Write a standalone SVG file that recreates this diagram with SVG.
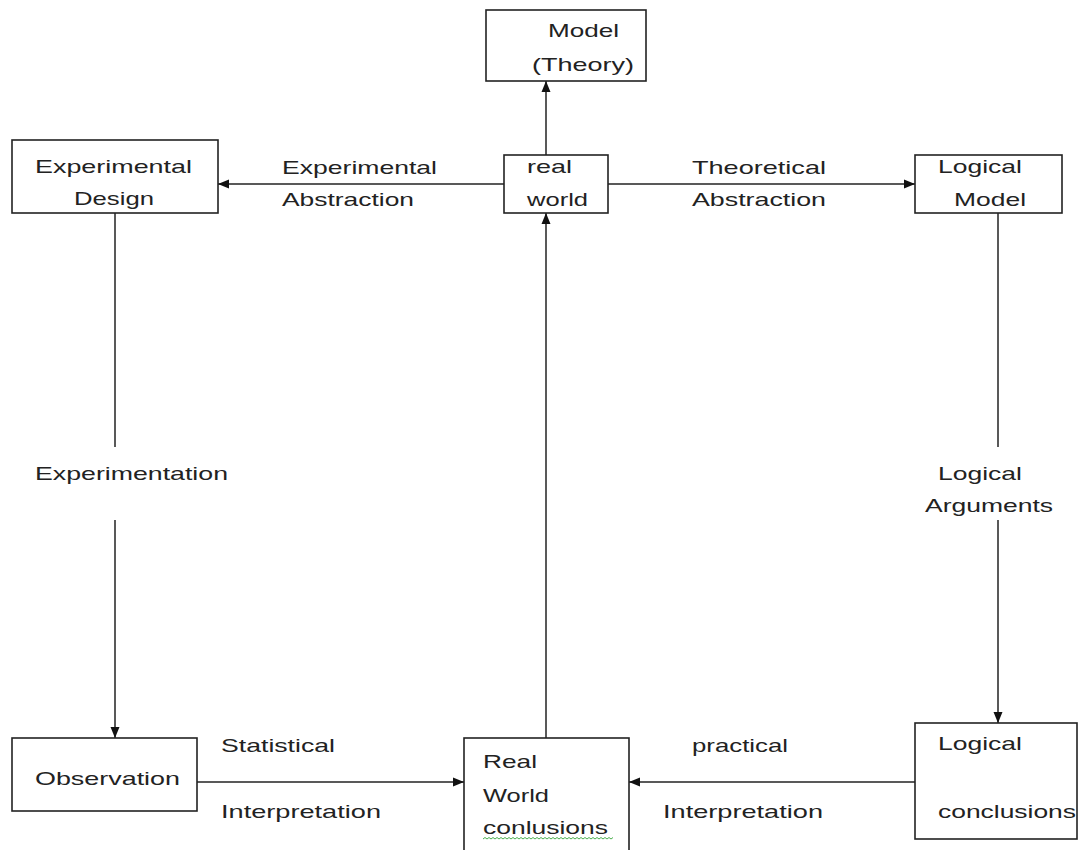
<svg xmlns="http://www.w3.org/2000/svg" width="1085" height="850" viewBox="0 0 1085 850">
<style>
.box{fill:#fff;stroke:#222;stroke-width:1.6}
.t{font-family:"Liberation Sans",Arial,sans-serif;font-size:19px;fill:#222}
.c{stroke:#222;stroke-width:1.5;fill:none}
.a{marker-end:url(#arr)}
</style>
<defs>
<marker id="arr" markerWidth="12" markerHeight="10" refX="11" refY="5" orient="auto" markerUnits="userSpaceOnUse">
<path d="M0,0.5 L11,5 L0,9.5 z" fill="#111"/>
</marker>
</defs>
<rect width="1085" height="850" fill="#fff"/>
<g id="connectors">
<line class="c a" x1="546" y1="155" x2="546" y2="81"/>
<line class="c a" x1="504" y1="184" x2="218" y2="184"/>
<line class="c a" x1="608" y1="184" x2="915" y2="184"/>
<line class="c a" x1="546" y1="738" x2="546" y2="213"/>
<line class="c" x1="115" y1="213" x2="115" y2="447"/>
<line class="c a" x1="115" y1="520" x2="115" y2="738"/>
<line class="c" x1="998" y1="213" x2="998" y2="447"/>
<line class="c a" x1="998" y1="520" x2="998" y2="723"/>
<line class="c a" x1="197" y1="782" x2="464" y2="782"/>
<line class="c a" x1="915" y1="782" x2="629" y2="782"/>
<text class="t" x="282" y="174" textLength="155" lengthAdjust="spacingAndGlyphs">Experimental</text>
<text class="t" x="282" y="206" textLength="132" lengthAdjust="spacingAndGlyphs">Abstraction</text>
<text class="t" x="692" y="174" textLength="134" lengthAdjust="spacingAndGlyphs">Theoretical</text>
<text class="t" x="692" y="206" textLength="134" lengthAdjust="spacingAndGlyphs">Abstraction</text>
<text class="t" x="35" y="480" textLength="193" lengthAdjust="spacingAndGlyphs">Experimentation</text>
<text class="t" x="938" y="480" textLength="84" lengthAdjust="spacingAndGlyphs">Logical</text>
<text class="t" x="925" y="512" textLength="128" lengthAdjust="spacingAndGlyphs">Arguments</text>
<text class="t" x="221" y="752" textLength="114" lengthAdjust="spacingAndGlyphs">Statistical</text>
<text class="t" x="221" y="818" textLength="160" lengthAdjust="spacingAndGlyphs">Interpretation</text>
<text class="t" x="692" y="752" textLength="96" lengthAdjust="spacingAndGlyphs">practical</text>
<text class="t" x="663" y="818" textLength="160" lengthAdjust="spacingAndGlyphs">Interpretation</text>
</g>
<g id="model">
<rect class="box" x="486" y="10" width="160" height="71"/>
<text class="t" x="548" y="37" textLength="71" lengthAdjust="spacingAndGlyphs">Model</text>
<text class="t" x="532" y="71" textLength="102" lengthAdjust="spacingAndGlyphs">(Theory)</text>
</g>
<g id="experimental-design">
<rect class="box" x="12" y="140" width="206" height="73"/>
<text class="t" x="35" y="173" textLength="157" lengthAdjust="spacingAndGlyphs">Experimental</text>
<text class="t" x="74" y="205" textLength="80" lengthAdjust="spacingAndGlyphs">Design</text>
</g>
<g id="real-world">
<rect class="box" x="504" y="155" width="104" height="58"/>
<text class="t" x="527" y="173" textLength="45" lengthAdjust="spacingAndGlyphs">real</text>
<text class="t" x="527" y="206" textLength="61" lengthAdjust="spacingAndGlyphs">world</text>
</g>
<g id="logical-model">
<rect class="box" x="915" y="155" width="147" height="58"/>
<text class="t" x="938" y="173" textLength="84" lengthAdjust="spacingAndGlyphs">Logical</text>
<text class="t" x="954" y="206" textLength="72" lengthAdjust="spacingAndGlyphs">Model</text>
</g>
<g id="observation">
<rect class="box" x="12" y="738" width="185" height="73"/>
<text class="t" x="35" y="785" textLength="145" lengthAdjust="spacingAndGlyphs">Observation</text>
</g>
<g id="real-world-conclusions">
<rect class="box" x="464" y="738" width="165" height="130"/>
<text class="t" x="483" y="768" textLength="54" lengthAdjust="spacingAndGlyphs">Real</text>
<text class="t" x="483" y="802" textLength="66" lengthAdjust="spacingAndGlyphs">World</text>
<text class="t" x="483" y="834" textLength="125" lengthAdjust="spacingAndGlyphs">conlusions</text>
<path d="M483,839 l2,-1.5 2,1.5 2,-1.5 2,1.5 2,-1.5 2,1.5 2,-1.5 2,1.5 2,-1.5 2,1.5 2,-1.5 2,1.5 2,-1.5 2,1.5 2,-1.5 2,1.5 2,-1.5 2,1.5 2,-1.5 2,1.5 2,-1.5 2,1.5 2,-1.5 2,1.5 2,-1.5 2,1.5 2,-1.5 2,1.5 2,-1.5 2,1.5 2,-1.5 2,1.5 2,-1.5 2,1.5 2,-1.5 2,1.5 2,-1.5 2,1.5 2,-1.5 2,1.5 2,-1.5 2,1.5 2,-1.5 2,1.5 2,-1.5 2,1.5 2,-1.5 2,1.5 2,-1.5 2,1.5 2,-1.5 2,1.5 2,-1.5 2,1.5 2,-1.5 2,1.5 2,-1.5 2,1.5 2,-1.5 2,1.5 2,-1.5 2,1.5 2,-1.5 2,1.5 2,-1.5" fill="none" stroke="#4caf50" stroke-width="1"/>
</g>
<g id="logical-conclusions">
<rect class="box" x="915" y="723" width="162" height="116"/>
<text class="t" x="938" y="750" textLength="84" lengthAdjust="spacingAndGlyphs">Logical</text>
<text class="t" x="938" y="818" textLength="138" lengthAdjust="spacingAndGlyphs">conclusions</text>
</g>
</svg>
